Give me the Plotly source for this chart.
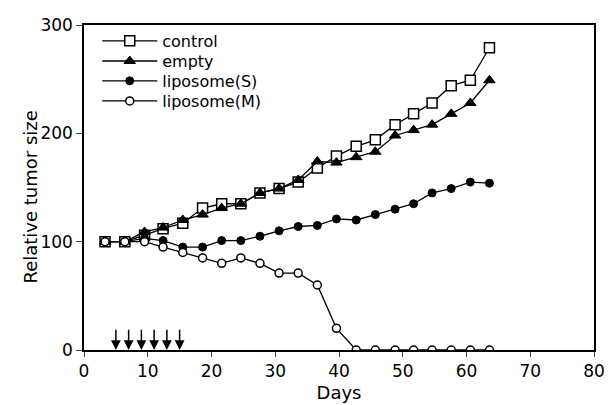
import plotly.graph_objects as go

days = [3.3, 6.4, 9.5, 12.4, 15.5, 18.6, 21.6, 24.6, 27.6, 30.6, 33.6,
        36.6, 39.6, 42.7, 45.7, 48.8, 51.7, 54.6, 57.6, 60.6, 63.6]
control = [100, 100, 106, 112, 117, 131, 135, 135, 145, 149, 155,
           168, 179, 188, 194, 208, 218, 228, 244, 249, 279]
empty = [100, 100, 109, 113, 120, 125, 131, 135, 145, 149, 157,
         174, 173, 178, 183, 198, 203, 208, 218, 228, 249]
lipo_s = [100, 100, 103, 101, 95, 95, 101, 101, 105, 110, 114,
          115, 121, 120, 125, 130, 135, 145, 149, 155, 154]
lipo_m = [100, 100, 100, 95, 90, 85, 80, 85, 80, 71, 71,
          60, 20, 0, 0, 0, 0, 0, 0, 0, 0]
arrow_days = [5, 7, 9, 11, 13, 15]
arrow_top = 20

x_ticks = [0, 10, 20, 30, 40, 50, 60, 70, 80]
y_ticks = [0, 100, 200, 300]

font = "DejaVu Sans, sans-serif"
lw = 1.3

series = [
    ("control", control, dict(symbol="square", size=10, color="white",
                              line=dict(color="black", width=1.5))),
    ("empty", empty, dict(symbol="triangle-up", size=10, color="black",
                          line=dict(color="black", width=1))),
    ("liposome(S)", lipo_s, dict(symbol="circle", size=8, color="black",
                                 line=dict(color="black", width=1))),
    ("liposome(M)", lipo_m, dict(symbol="circle", size=8, color="white",
                                 line=dict(color="black", width=1.5))),
]
legend_names = ["legend", "legend2", "legend3", "legend4"]
legend_y = [0.951, 0.889, 0.828, 0.766]

fig = go.Figure()
for (name, vals, mk), lg in zip(series, legend_names):
    fig.add_trace(go.Scatter(x=days, y=vals, name=name, mode="lines+markers",
                             line=dict(color="black", width=lw), marker=mk,
                             legend=lg))

for d in arrow_days:
    fig.add_annotation(x=d, y=0, ax=d, ay=arrow_top, xref="x", yref="y",
                       axref="x", ayref="y", showarrow=True, arrowhead=2,
                       arrowsize=1.3, arrowwidth=1.5, arrowcolor="black", text="")

fig.add_annotation(text="Relative tumor size", textangle=-90, showarrow=False,
                   xref="paper", yref="paper", x=-0.104, y=0.472,
                   xanchor="center", yanchor="middle", font=dict(size=18))

legend_cfg = {}
for lg, ly in zip(legend_names, legend_y):
    legend_cfg[lg] = dict(x=0.026, y=ly, xanchor="left", yanchor="middle",
                          bgcolor="rgba(0,0,0,0)", font=dict(size=16, family=font),
                          itemwidth=55)

fig.update_layout(
    width=608, height=405,
    margin=dict(l=84, r=14, t=25, b=55),
    paper_bgcolor="white", plot_bgcolor="white",
    font=dict(family=font, size=17, color="black"),
    showlegend=True,
    xaxis=dict(range=[0, 80], tickvals=x_ticks, ticks="outside", ticklen=5,
               showline=True, linecolor="black", linewidth=1.5, mirror=True,
               showgrid=False, zeroline=False, automargin=False,
               tickfont=dict(size=17),
               title=dict(text="Days", font=dict(size=18), standoff=6)),
    yaxis=dict(range=[0, 300], tickvals=y_ticks, ticks="outside", ticklen=6,
               showline=True, linecolor="black", linewidth=1.5, mirror=True,
               showgrid=False, zeroline=False, automargin=False,
               tickfont=dict(size=17)),
    **legend_cfg,
)

fig.write_html(
    "out.html",
    config={"displayModeBar": False},
    post_script="document.body.style.margin='0';document.body.style.overflow='hidden';",
)
